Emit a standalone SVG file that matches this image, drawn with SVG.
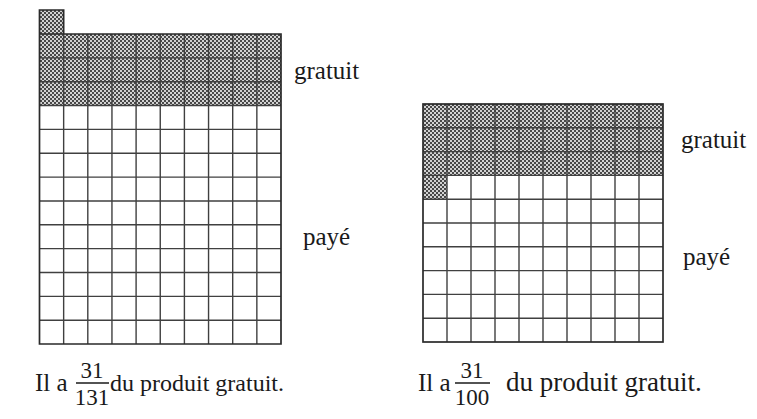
<svg xmlns="http://www.w3.org/2000/svg" width="757" height="419" viewBox="0 0 757 419">
<style>
.grid{fill:none;stroke:#404040;stroke-width:1.4}
.border{fill:none;stroke:#2a2a2a;stroke-width:1.7}
.shade{fill:url(#dots)}
.lbl{font-family:"Liberation Serif","Times New Roman",serif;font-size:25px;fill:#1a1a1a}
.frac{font-family:"Liberation Serif","Times New Roman",serif;font-size:23px;fill:#1a1a1a;text-anchor:middle}
.bar{stroke:#1a1a1a;stroke-width:1.3}
</style>
<defs>
<pattern id="dots" width="4" height="4" patternUnits="userSpaceOnUse">
<rect width="4" height="4" fill="#d2d2d2"/>
<rect x="0" y="0" width="2" height="2" fill="#484848"/>
<rect x="2" y="2" width="2" height="2" fill="#484848"/>
</pattern>
</defs>
<rect width="757" height="419" fill="#fff"/>
<g id="left-grid">
<rect x="39.5" y="34" width="241.5" height="310" fill="#fff"/>
<rect class="shade" x="39.5" y="10" width="24.15" height="24"/>
<rect class="shade" x="39.5" y="34" width="241.5" height="71.55"/>
<path class="grid" d="M63.65 34V344M87.8 34V344M111.95 34V344M136.1 34V344M160.25 34V344M184.4 34V344M208.55 34V344M232.7 34V344M256.85 34V344M39.5 57.85H281M39.5 81.7H281M39.5 105.55H281M39.5 129.4H281M39.5 153.25H281M39.5 177.1H281M39.5 200.95H281M39.5 224.8H281M39.5 248.65H281M39.5 272.5H281M39.5 296.35H281M39.5 320.2H281"/>
<path class="border" d="M39.5 34H281V344H39.5ZM39.5 34V10H63.65V34"/>
</g>
<g id="right-grid">
<rect x="423" y="104" width="240" height="238" fill="#fff"/>
<rect class="shade" x="423" y="104" width="240" height="71.4"/>
<rect class="shade" x="423" y="175.4" width="24" height="23.8"/>
<path class="grid" d="M447 104V342M471 104V342M495 104V342M519 104V342M543 104V342M567 104V342M591 104V342M615 104V342M639 104V342M423 127.8H663M423 151.6H663M423 175.4H663M423 199.2H663M423 223H663M423 246.8H663M423 270.6H663M423 294.4H663M423 318.2H663"/>
<rect class="border" x="423" y="104" width="240" height="238"/>
</g>
<g id="left-labels">
<text class="lbl" x="294" y="79">gratuit</text>
<text class="lbl" x="303" y="245">payé</text>
</g>
<g id="right-labels">
<text class="lbl" x="681" y="148">gratuit</text>
<text class="lbl" x="683" y="265">payé</text>
</g>
<g id="left-caption">
<text class="lbl" x="35" y="391">Il a</text>
<text class="frac" x="92" y="378">31</text>
<line class="bar" x1="76" y1="383" x2="109" y2="383"/>
<text class="frac" x="92" y="405">131</text>
<text class="lbl" x="110" y="391" style="font-size:24px">du produit gratuit.</text>
</g>
<g id="right-caption">
<text class="lbl" x="418" y="391">Il a</text>
<text class="frac" x="472" y="378">31</text>
<line class="bar" x1="455" y1="383" x2="490" y2="383"/>
<text class="frac" x="472" y="405">100</text>
<text class="lbl" x="506" y="391" style="font-size:27px">du produit gratuit.</text>
</g>
</svg>
